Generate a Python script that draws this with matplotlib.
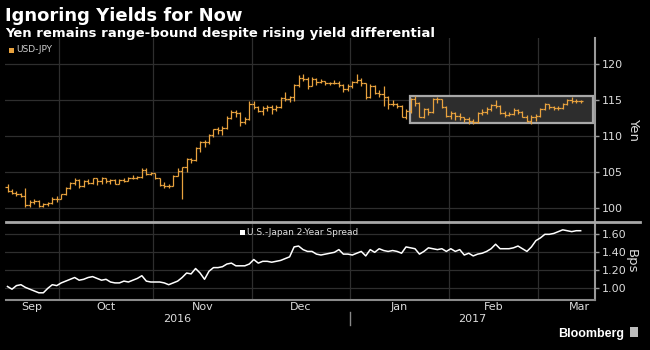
import matplotlib
matplotlib.use("Agg")
import matplotlib.pyplot as plt
import numpy as np
import pandas as pd
from matplotlib.patches import Rectangle
from matplotlib.lines import Line2D

# ---------------- data ----------------
dates = pd.bdate_range("2016-09-15", "2017-03-14")

usd_open = [102.9, 102.4, 102.1, 101.9, 101.7, 100.4, 100.9, 101.0, 100.3, 100.5, 100.7, 101.2,
            101.3, 101.9, 102.8, 103.5, 103.9, 103.0, 103.7, 103.5, 104.1, 103.7, 104.1, 103.8,
            103.9, 103.4, 103.9, 103.8, 104.2, 104.2, 104.3, 105.3, 104.7,
            104.8, 104.1, 103.2, 103.1, 103.1, 104.5, 105.2, 105.7, 106.8, 106.6, 108.4, 109.1,
            109.1, 110.2, 110.9, 110.8, 111.1, 112.5, 113.3, 113.2, 111.9, 112.4,
            114.4, 114.0, 113.5, 113.9, 114.0, 113.7, 114.0, 115.3, 115.1, 115.4, 117.1, 118.1,
            117.9, 117.0, 117.9, 117.5, 117.6, 117.3, 117.4, 117.4, 117.1, 116.5,
            116.9, 117.5, 117.8, 117.3, 115.4, 117.0, 115.9, 115.8, 115.4, 114.4, 114.5, 114.2,
            112.7, 113.4, 115.2, 114.6, 112.7, 113.8, 113.3, 115.1, 115.1, 114.0,
            112.8, 113.2, 112.8, 112.6, 112.3, 112.1, 111.9, 113.2, 113.3, 113.7, 114.3, 114.2,
            113.2, 112.9, 113.1, 113.6, 113.3, 112.7, 112.1, 112.6,
            112.8, 113.7, 114.4, 114.0, 113.9, 113.9, 114.4, 115.0, 114.8, 114.8]
usd_high = [103.3, 102.6, 102.3, 102.1, 102.8, 101.1, 101.3, 101.1, 100.7, 100.9, 101.5, 101.6,
            102.0, 102.9, 103.6, 104.2, 104.0, 103.9, 104.0, 104.2, 104.2, 104.3, 104.2, 104.0,
            104.0, 104.0, 104.1, 104.3, 104.6, 104.4, 105.5, 105.5, 105.0,
            104.9, 104.2, 103.6, 103.4, 104.6, 105.5, 105.7, 106.9, 107.0, 108.5, 109.3, 109.4,
            110.3, 111.0, 111.3, 111.4, 112.8, 113.6, 113.6, 113.3, 112.6, 114.8,
            114.8, 114.2, 114.2, 114.3, 114.3, 114.3, 115.4, 116.1, 115.6, 117.2, 118.5, 118.6,
            118.2, 118.2, 118.0, 117.9, 117.7, 117.5, 117.8, 117.6, 117.2, 117.2,
            117.6, 118.6, 118.0, 117.4, 117.2, 117.1, 116.4, 116.9, 115.5, 115.0, 114.6, 114.3,
            113.7, 115.3, 115.6, 114.7, 113.9, 113.9, 115.3, 115.4, 115.1, 114.1,
            113.4, 113.3, 113.2, 112.7, 112.6, 112.3, 113.3, 113.8, 114.0, 114.5, 115.0, 114.3,
            113.4, 113.3, 113.9, 113.8, 113.5, 112.9, 112.9, 113.0,
            113.9, 114.6, 114.5, 114.2, 114.1, 114.6, 115.2, 115.4, 115.1, 115.0]
usd_low = [102.2, 101.9, 101.7, 101.5, 100.1, 100.2, 100.6, 100.1, 100.1, 100.3, 100.6, 100.8,
           101.2, 101.8, 102.6, 103.2, 102.8, 102.9, 103.3, 103.4, 103.2, 103.4, 103.5, 103.4,
           103.3, 103.3, 103.6, 103.7, 104.0, 104.0, 104.2, 104.6, 104.6,
           104.0, 103.0, 102.8, 102.8, 103.0, 104.4, 101.2, 105.0, 106.2, 106.5, 107.8, 108.5,
           108.9, 109.9, 110.3, 110.2, 110.9, 112.3, 112.7, 111.4, 111.7, 112.2,
           113.8, 113.3, 112.9, 113.4, 113.1, 113.5, 113.9, 114.8, 114.7, 114.8, 116.8, 117.6,
           116.5, 116.9, 117.1, 117.3, 117.1, 117.1, 117.2, 116.8, 116.1, 116.3,
           116.6, 117.3, 116.9, 115.1, 115.3, 115.8, 115.4, 114.2, 113.8, 114.1, 113.9, 112.6,
           112.3, 113.2, 114.2, 112.6, 112.5, 112.9, 113.2, 114.6, 113.9, 112.7,
           112.4, 112.2, 112.2, 111.9, 111.7, 111.6, 111.8, 112.9, 113.0, 113.5, 113.9, 113.1,
           112.6, 112.8, 112.9, 113.0, 112.6, 111.9, 111.7, 112.1,
           112.6, 113.6, 113.8, 113.6, 113.6, 113.8, 114.3, 114.6, 114.6, 114.6]
usd_close = [102.4, 102.1, 101.9, 101.7, 100.4, 100.9, 101.0, 100.3, 100.5, 100.7, 101.2, 101.3,
             101.9, 102.8, 103.5, 103.9, 103.0, 103.7, 103.5, 104.1, 103.7, 104.1, 103.8, 103.9,
             103.4, 103.9, 103.8, 104.2, 104.2, 104.3, 105.3, 104.7, 104.8,
             104.1, 103.2, 103.1, 103.1, 104.5, 105.2, 105.7, 106.8, 106.6, 108.4, 109.1, 109.1,
             110.2, 110.9, 110.8, 111.1, 112.5, 113.3, 113.2, 111.9, 112.4, 114.4,
             114.0, 113.5, 113.9, 114.0, 113.7, 114.0, 115.3, 115.1, 115.4, 117.1, 118.1, 117.9,
             117.0, 117.9, 117.5, 117.6, 117.3, 117.4, 117.4, 117.1, 116.5, 116.9,
             117.5, 117.8, 117.3, 115.4, 117.0, 115.9, 115.8, 115.4, 114.4, 114.5, 114.2, 112.7,
             113.4, 115.2, 114.6, 112.7, 113.8, 113.3, 115.1, 115.1, 114.0, 112.8,
             113.2, 112.8, 112.6, 112.3, 112.1, 111.9, 113.2, 113.3, 113.7, 114.3, 114.2, 113.2,
             112.9, 113.1, 113.6, 113.3, 112.7, 112.1, 112.6, 112.8,
             113.7, 114.4, 114.0, 113.9, 113.9, 114.4, 115.0, 114.8, 114.8, 114.8]

spread = [1.02, 0.99, 1.03, 1.04, 1.01, 0.99, 0.97, 0.95, 0.95, 1.00, 1.04, 1.03,
          1.06, 1.08, 1.10, 1.12, 1.09, 1.10, 1.12, 1.13, 1.11, 1.09, 1.10, 1.07,
          1.06, 1.06, 1.08, 1.07, 1.09, 1.11, 1.14, 1.08, 1.07,
          1.07, 1.07, 1.06, 1.04, 1.06, 1.08, 1.12, 1.17, 1.16, 1.22, 1.17, 1.10,
          1.19, 1.23, 1.23, 1.24, 1.27, 1.28, 1.25, 1.25, 1.25, 1.27,
          1.32, 1.28, 1.30, 1.30, 1.29, 1.30, 1.31, 1.33, 1.35, 1.46, 1.47, 1.43,
          1.41, 1.41, 1.38, 1.37, 1.38, 1.39, 1.40, 1.43, 1.38, 1.38,
          1.37, 1.39, 1.41, 1.36, 1.43, 1.40, 1.44, 1.42, 1.41, 1.42, 1.41, 1.39,
          1.46, 1.45, 1.44, 1.38, 1.41, 1.45, 1.44, 1.43, 1.44, 1.41,
          1.44, 1.41, 1.43, 1.37, 1.39, 1.36, 1.38, 1.39, 1.41, 1.44, 1.49, 1.44,
          1.44, 1.44, 1.45, 1.47, 1.44, 1.41, 1.46, 1.53,
          1.56, 1.60, 1.60, 1.61, 1.63, 1.65, 1.64, 1.63, 1.64, 1.64]

range_low, range_high = 111.8, 115.6
range_start = "2017-01-19"

yen_ticks = [100, 105, 110, 115, 120]
bps_ticks = [1.00, 1.20, 1.40, 1.60]
month_names = ["Sep", "Oct", "Nov", "Dec", "Jan", "Feb", "Mar"]
year_names = ["2016", "2017"]

title = "Ignoring Yields for Now"
subtitle = "Yen remains range-bound despite rising yield differential"

# ---------------- style ----------------
BG = "black"
ORANGE = "#e8a23e"
GRID = "#2e2e2e"
AXC = "#9a9a9a"
TXT = "#dcdcdc"
W, H = 650, 350

def fx(px):
    return px / W

def fy(py):
    return 1 - py / H

fig = plt.figure(figsize=(6.5, 3.5), dpi=100, facecolor=BG)

x = np.arange(len(dates))
xmin, xmax = -0.56, 131.2

ax1 = fig.add_axes([fx(5), fy(222), 590 / W, 184 / H], facecolor=BG)
ax2 = fig.add_axes([fx(5), fy(300), 590 / W, 78 / H], facecolor=BG)

for ax in (ax1, ax2):
    ax.set_xlim(xmin, xmax)
    for s in ("top", "left", "bottom"):
        ax.spines[s].set_visible(False)
    ax.spines["right"].set_color(AXC)
    ax.spines["right"].set_linewidth(1.5)
    ax.yaxis.tick_right()
    ax.tick_params(axis="y", colors=AXC, labelcolor=TXT, labelsize=8, length=3, width=1, pad=2)
    ax.set_xticks([])

# month boundaries
months = dates.to_period("M")
bounds = [i - 0.5 for i in range(1, len(dates)) if months[i] != months[i - 1]]
for ax in (ax1, ax2):
    for b in bounds:
        ax.axvline(b, color=GRID, lw=0.9, zorder=0)

# ---------- top panel ----------
ax1.set_ylim(98.06, 123.6)
ax1.set_yticks(yen_ticks)
ax1.set_yticklabels([str(t) for t in yen_ticks])
for t in yen_ticks:
    ax1.axhline(t, color=GRID, lw=0.9, zorder=0)

rs = dates.get_loc(pd.Timestamp(range_start))
ax1.add_patch(Rectangle((rs - 0.2, range_low), xmax - 0.4 - (rs - 0.2), range_high - range_low,
                        facecolor="#2d2d2d", edgecolor="#a8a8a8", lw=1.6, zorder=1))

ax1.vlines(x, usd_low, usd_high, color=ORANGE, lw=0.9, zorder=3)
ax1.hlines(usd_open, x - 0.5, x, color=ORANGE, lw=0.9, zorder=3)
ax1.hlines(usd_close, x, x + 0.5, color=ORANGE, lw=0.9, zorder=3)

ax1.set_ylabel("Yen", color=TXT, fontsize=9.5, rotation=270, labelpad=12)
ax1.yaxis.set_label_position("right")

# ---------- bottom panel ----------
ax2.set_ylim(0.87, 1.737)
ax2.set_yticks(bps_ticks)
ax2.set_yticklabels([f"{t:.2f}" for t in bps_ticks])
for t in bps_ticks:
    ax2.axhline(t, color=GRID, lw=0.9, zorder=0)
ax2.plot(x, spread, color="white", lw=1.1, zorder=3)
ax2.set_ylabel("Bps", color=TXT, fontsize=9.5, rotation=270, labelpad=8)
ax2.yaxis.set_label_position("right")

# month labels
tr = ax2.get_xaxis_transform()
edges = [xmin] + bounds + [xmax]
for k, name in enumerate(month_names):
    if k < len(month_names) - 1:
        ax2.text((edges[k] + edges[k + 1]) / 2, -0.09, name, transform=tr, ha="center",
                 va="center", color=TXT, fontsize=8)
    else:
        ax2.text(edges[k + 1] - 1.1, -0.09, name, transform=tr, ha="right",
                 va="center", color=TXT, fontsize=8)

# year labels
years = dates.year
ybound = [i - 0.5 for i in range(1, len(dates)) if years[i] != years[i - 1]][0]
ax2.text((xmin + ybound) / 2, -0.245, year_names[0], transform=tr, ha="center", va="center",
         color=TXT, fontsize=8)
ax2.text((ybound + xmax) / 2, -0.245, year_names[1], transform=tr, ha="center", va="center",
         color=TXT, fontsize=8)
ax2.add_line(Line2D([ybound, ybound], [-0.15, -0.32], transform=tr, color="#888888",
                    lw=1, clip_on=False))

# separators / axis lines
fig.add_artist(Line2D([fx(6), fx(640)], [fy(222), fy(222)], color="#a8a8a8", lw=2))
fig.add_artist(Line2D([fx(6), fx(595)], [fy(300), fy(300)], color="#8a8a8a", lw=1.5))

# titles
fig.text(fx(5), fy(21), title, color="white", fontsize=13, fontweight="bold",
         va="baseline", ha="left")
fig.text(fx(5), fy(36.5), subtitle, color="white", fontsize=9.5, fontweight="bold",
         va="baseline", ha="left")

# legends
fig.add_artist(Rectangle((fx(9), fy(52.5)), 5 / W, 5 / H, transform=fig.transFigure,
                         facecolor=ORANGE, edgecolor="none"))
fig.text(fx(16), fy(50), "USD-JPY", color="#cfcfcf", fontsize=6.5, va="center", ha="left")
fig.add_artist(Rectangle((fx(240), fy(235)), 5 / W, 5 / H, transform=fig.transFigure,
                         facecolor="white", edgecolor="none"))
fig.text(fx(247), fy(232.5), "U.S.-Japan 2-Year Spread", color="#dcdcdc", fontsize=6.5,
         va="center", ha="left")

# brand
fig.text(fx(624), fy(336.5), "Bloomberg", color="white", fontsize=9, fontweight="bold",
         family="Liberation Sans", va="baseline", ha="right")
fig.add_artist(Rectangle((fx(630), fy(337)), 8 / W, 10 / H, transform=fig.transFigure,
                         facecolor="#bdbdbd", edgecolor="none"))

fig.savefig("out.png", dpi=100, facecolor=BG)
